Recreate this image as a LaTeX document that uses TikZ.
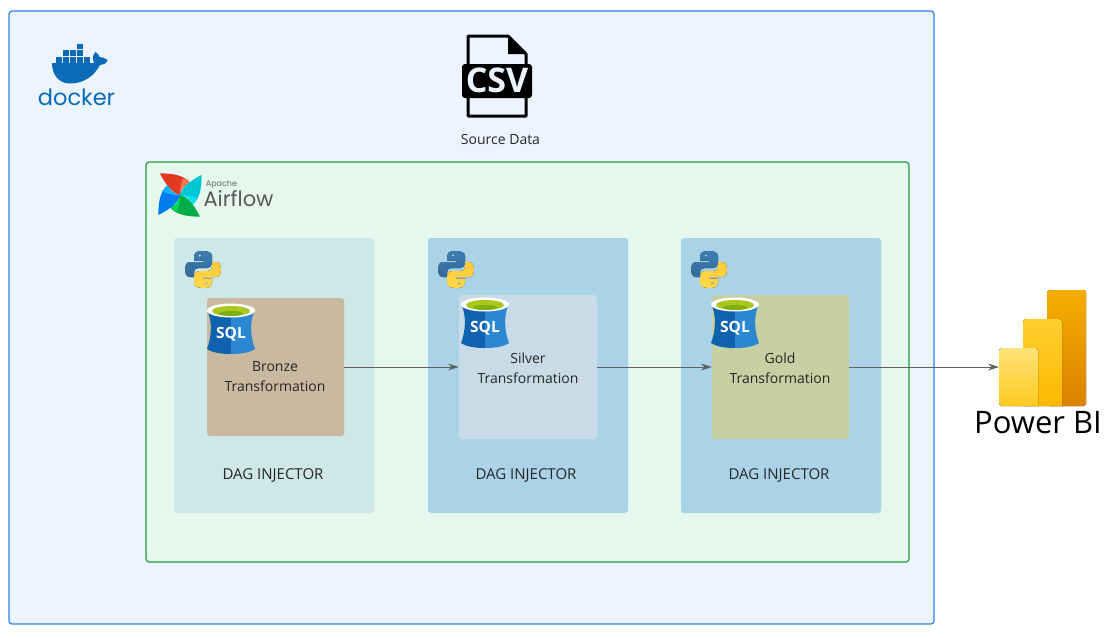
\documentclass[tikz,border=0pt]{standalone}
\usepackage{fontspec}
\setmainfont{Open Sans}
\newfontfamily\logofont{Poppins}
\newfontfamily\csvfont{Open Sans}
\usetikzlibrary{arrows.meta}
\definecolor{outerfill}{HTML}{ECF5FF}
\definecolor{outerline}{HTML}{2F80ED}
\definecolor{flowfill}{HTML}{E6F7EE}
\definecolor{flowline}{HTML}{259A3C}
\definecolor{dagteal}{HTML}{CDE8E7}
\definecolor{dagblue}{HTML}{ABD3E8}
\definecolor{bronzefill}{HTML}{C9B9A1}
\definecolor{silverfill}{HTML}{C9DBE7}
\definecolor{goldfill}{HTML}{C6D0A3}
\definecolor{dockerblue}{HTML}{0B6BB8}
\definecolor{afred}{HTML}{E43921}
\definecolor{aflred}{HTML}{FF7557}
\definecolor{afteal}{HTML}{00C7D4}
\definecolor{aflteal}{HTML}{11E1EE}
\definecolor{afgreen}{HTML}{00AD46}
\definecolor{aflgreen}{HTML}{04D659}
\definecolor{afblue}{HTML}{017CEE}
\definecolor{aflblue}{HTML}{0CB6FF}
\definecolor{pyblueA}{HTML}{3C7EB4}
\definecolor{pyblueB}{HTML}{356A98}
\definecolor{pyyellowA}{HTML}{FFDA4A}
\definecolor{pyyellowB}{HTML}{FFC93A}
\definecolor{sqldark}{HTML}{0F62AE}
\definecolor{sqllight}{HTML}{2A87D0}
\definecolor{sqlgreen}{HTML}{A8C81E}
\definecolor{sqlgreenB}{HTML}{7FAE10}
\definecolor{pbiA}{HTML}{F5AE00}
\definecolor{pbiB}{HTML}{DD8200}
\definecolor{pbiC}{HTML}{FFCE30}
\definecolor{pbiD}{HTML}{FDB900}
\definecolor{pbiE}{HTML}{FFE27A}
\definecolor{pbiF}{HTML}{FFC91E}
\begin{document}
\begin{tikzpicture}[x=1pt,y=-1pt,
box/.style={draw=none,rounded corners=3pt,inner sep=0pt},
dagbox/.style={box,minimum width=200pt,minimum height=275pt},
stagebox/.style={box,minimum width=137pt},
txt/.style={text=black!85,font=\fontsize{14}{16}\selectfont,inner sep=0pt,align=center},
injecttxt/.style={txt,font=\fontsize{15}{16}\selectfont},
flow/.style={draw=black!62,line width=1pt,-{Stealth[length=11pt,width=7pt]}},
dockerlogo/.pic={
  \fill[dockerblue] (0,19) -- (42,19) .. controls (40,14) and (41,10) .. (43.7,8)
    .. controls (46,10) and (47,11) .. (47.5,13) .. controls (50,13) and (53,14) .. (55.7,16)
    .. controls (54,20) and (51,21) .. (48,21) .. controls (42,32) and (32,39.5) .. (18,39.5)
    .. controls (7,39.5) and (0,31) .. (0,19) -- cycle;
  \foreach \Col/\Row in {0/0,1/0,2/0,3/0,4/0,1/1,2/1,3/1,3/2}
    \fill[dockerblue] (4.2+\Col*6.9,13-\Row*6.6) rectangle ++(6,5.6);},
csvicon/.pic={
  \draw[line width=3pt,line join=round,fill=outerfill] (0,0) -- (40,0) -- (58,18) -- (58,80) -- (0,80) -- cycle;
  \fill[black,line join=round] (40,0) -- (58,18) -- (40,18) -- cycle;
  \fill[black,rounded corners=3pt] (-6,28) rectangle (64,62);
  \node (-text) at (29,44.5) [text=outerfill,inner sep=0pt,font=\csvfont\bfseries\fontsize{34}{34}\selectfont] {CSV};},
airflowlogo/.pic={
  \foreach \Ang/\Main/\Lite in {0/afred/aflred,-90/afteal/aflteal,-180/afgreen/aflgreen,-270/afblue/aflblue}{
    \begin{scope}[rotate around={\Ang:(21,22)}]
      \fill[\Main] (1,0.5) .. controls (12,0) and (25,2) .. (31,9.7) .. controls (25,12) and (22,16) .. (21,22)
        .. controls (13,20) and (7,12) .. (1,0.5) -- cycle;
      \fill[\Lite] (21,22) .. controls (22,16) and (25,12) .. (31,9.7) .. controls (28,7) and (26,6) .. (24,5.5) .. controls (22,10) and (21,16) .. (21,22) -- cycle;
    \end{scope}}},
pythonlogo/.pic={
  \foreach \Ang/\Top/\Low in {0/pyblueA/pyblueB,180/pyyellowB/pyyellowA}
    \fill[even odd rule,rotate around={\Ang:(18,18.5)},top color=\Top,bottom color=\Low]
      (17.5,0) .. controls (10,0) and (9,3) .. (9,5) -- (9,9.5) -- (18,9.5) -- (18,11) -- (5,11)
      .. controls (2,11) and (0,14) .. (0,18.5) .. controls (0,23) and (2,26) .. (5,26) -- (9,26) -- (9,21)
      .. controls (9,18) and (11,17) .. (14,17) -- (22,17) .. controls (25,17) and (27,15) .. (27,12) -- (27,5)
      .. controls (27,2) and (24,0) .. (17.5,0) -- cycle
      (14.8,4.5) circle [radius=1.7];},
sqlicon/.pic={
  \fill[sqldark] (1,8) .. controls (5,18) and (5,32) .. (0,45) .. controls (6,49) and (15,50) .. (24,50) -- (24,8) -- cycle;
  \fill[sqllight] (47,8) .. controls (43,18) and (43,32) .. (48,45) .. controls (42,49) and (33,50) .. (24,50) -- (24,8) -- cycle;
  \fill[white] (24,6.5) ellipse [x radius=24,y radius=7];
  \fill[sqlgreen] (24,7) ellipse [x radius=19,y radius=5];
  \fill[sqlgreenB] (24,9.5) ellipse [x radius=12,y radius=2.5];
  \node (-text) at (24,30) [text=white,inner sep=0pt,font=\bfseries\fontsize{15.5}{16}\selectfont] {SQL};},
powerbilogo/.pic={
  \fill[rounded corners=3pt,top color=pbiA,bottom color=pbiB] (48,0) rectangle (87,116);
  \fill[top color=pbiC,bottom color=pbiD] (63,116) -- (24,116) [rounded corners=3pt] -- (24,29) -- (63,29) [sharp corners] -- cycle;
  \fill[top color=pbiE,bottom color=pbiF] (39,116) [rounded corners=3pt] -- (0,116) -- (0,58) -- (39,58) [sharp corners] -- cycle;}
]
\useasboundingbox (0,0) rectangle (1115,637);

\node (outer) at (471.5,317.5) [box,draw=outerline,line width=1.2pt,fill=outerfill,minimum width=925pt,minimum height=613pt] {};
\node (airflow) at (527.5,362) [box,draw=flowline,line width=1.2pt,fill=flowfill,minimum width=763pt,minimum height=400pt] {};

\node (dagA) at (274,375.5) [dagbox,fill=dagteal] {};
\node (dagB) at (528,375.5) [dagbox,fill=dagblue] {};
\node (dagC) at (781,375.5) [dagbox,fill=dagblue] {};

\node (bronze) at (275.5,367) [stagebox,fill=bronzefill,minimum height=138pt] {};
\node (silver) at (528,367) [stagebox,fill=silverfill,minimum width=138pt,minimum height=144pt] {};
\node (gold) at (780.5,367) [stagebox,fill=goldfill,minimum height=144pt] {};

\path
  (52,44) pic {dockerlogo}
  (468,36) pic (csv) {csvicon}
  (159,173) pic {airflowlogo}
  (185,251) pic {pythonlogo}
  (438,251) pic {pythonlogo}
  (691,251) pic {pythonlogo}
  (207,304) pic (sqlA) {sqlicon}
  (461,298) pic (sqlB) {sqlicon}
  (711,298) pic (sqlC) {sqlicon}
  (999,290) pic {powerbilogo};

\node (dockerlabel) at (76.5,97.5) [text=dockerblue,inner sep=0pt,font=\logofont\fontsize{22.5}{23}\selectfont] {docker};
\node (sourcelabel) at (500.5,139) [txt] {Source Data};
\node (apachelabel) at (221.5,184.5) [text=black!60,inner sep=0pt,font=\logofont\fontsize{8}{8}\selectfont] {Apache};
\node (airflowlabel) at (238.5,198.5) [text=black!65,inner sep=0pt,font=\logofont\fontsize{21}{21}\selectfont] {Airflow};
\node (bronzelabel) at (275,386) [txt,text height=11pt] {Bronze\\[4pt]Transformation};
\node (silverlabel) at (528,378) [txt,text height=11pt] {Silver\\[4pt]Transformation};
\node (goldlabel) at (780,378) [txt,text height=11pt] {Gold\\[4pt]Transformation};
\foreach \Name/\X in {A/273,B/526,C/779}
  \node (inject\Name) at (\X,475.5) [injecttxt] {DAG INJECTOR};
\node (pbilabel) at (1038,423) [text=black,inner sep=0pt,font=\fontsize{31}{31}\selectfont] {Power BI};

\coordinate (pbiin) at (999,367);
\draw[flow] (bronze.east) -- (silver.west);
\draw[flow] (silver.east) -- (gold.west);
\draw[flow] (gold.east) -- (pbiin);
\end{tikzpicture}
\end{document}
